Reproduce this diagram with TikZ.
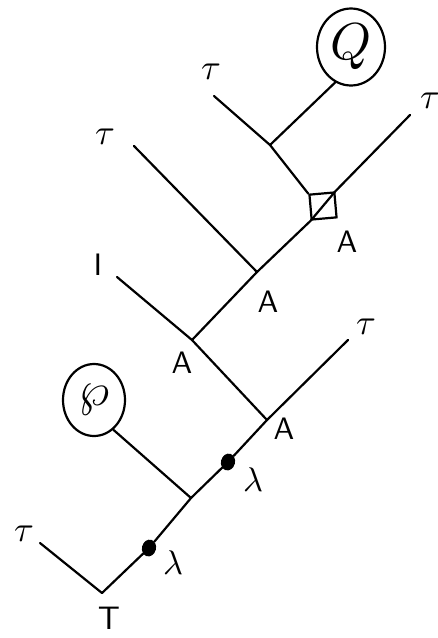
\documentclass[tikz,border=0pt]{standalone}
\usetikzlibrary{shapes.geometric}
\begin{document}
\begin{tikzpicture}[x=1pt,y=-1pt,
  wire/.style={line width=2.2pt, line cap=round, line join=round},
  lab/.style={inner sep=0pt, scale=3.6},
  alab/.style={inner sep=0pt, font=\sffamily, scale=3.1},
  dotmark/.style={ellipse, fill, minimum width=14pt, minimum height=17pt, inner sep=0pt, rotate=-15},
  blob/.style={ellipse, draw, line width=2.2pt, inner sep=0pt},
  boxmark/.style={draw, line width=2.2pt, minimum size=25pt, inner sep=0pt, rotate=5}]
\useasboundingbox (0,0) rectangle (437,638);

% junctions and free wire ends
\coordinate (t0) at (102,593);
\coordinate (tauL) at (40,543);
\coordinate (jP) at (191,498);
\coordinate (jA1) at (267,420);
\coordinate (tauR) at (348,340);
\coordinate (jA2) at (192,340);
\coordinate (unitEnd) at (117,277);
\coordinate (jA3) at (257,272);
\coordinate (tauM) at (134,146);
\coordinate (tauTop) at (410,115);
\coordinate (jQ) at (270,145);
\coordinate (tauQ) at (214,96);

% nodes
\node[dotmark] (d1) at (149,548) {};
\node[dotmark] (d2) at (228,462) {};
\node[boxmark] (bx) at (323,206) {};
\node[blob, minimum width=68pt, minimum height=77pt] (Q) at (351,47) {};
\node[inner sep=0pt, scale=5.2] (Qtxt) at (Q.center) {$Q$};
\node[blob, minimum width=62pt, minimum height=72pt] (P) at (94,400) {};
\node[inner sep=0pt, scale=4.8] (Ptxt) at (P.center) {$\wp$};

% wires
\draw[wire] (tauL) -- (t0) -- (d1) -- (jP) -- (d2) -- (jA1) -- (tauR);
\draw[wire] (jP) -- (P.303);
\draw[wire] (jA1) -- (jA2) -- (unitEnd);
\draw[wire] (jA2) -- (jA3) -- (tauM);
\draw[wire] (jA3) -- (bx.south west) -- (bx.north east) -- (tauTop);
\draw[wire] (bx.north west) -- (jQ) -- (tauQ);
\draw[wire] (jQ) -- (Q.246);

% labels
\node[lab] (lTauL) at (24,534) {$\tau$};
\node[alab, scale=1.05] (lT) at (109,618) {T};
\node[lab, scale=0.95] (lLam1) at (173,563) {$\lambda$};
\node[lab, scale=0.95] (lLam2) at (253,480) {$\lambda$};
\node[alab] (lA1) at (284,429) {A};
\node[lab] (lTauR) at (366,327) {$\tau$};
\node[alab] (lA2) at (182,363) {A};
\node[alab] (lUnit) at (98,265) {I};
\node[alab] (lA3) at (268,302) {A};
\node[lab] (lTauM) at (105,137) {$\tau$};
\node[alab] (lA4) at (347,242) {A};
\node[lab] (lTauTop) at (430,101) {$\tau$};
\node[lab] (lTauQ) at (211,72) {$\tau$};
\end{tikzpicture}
\end{document}
